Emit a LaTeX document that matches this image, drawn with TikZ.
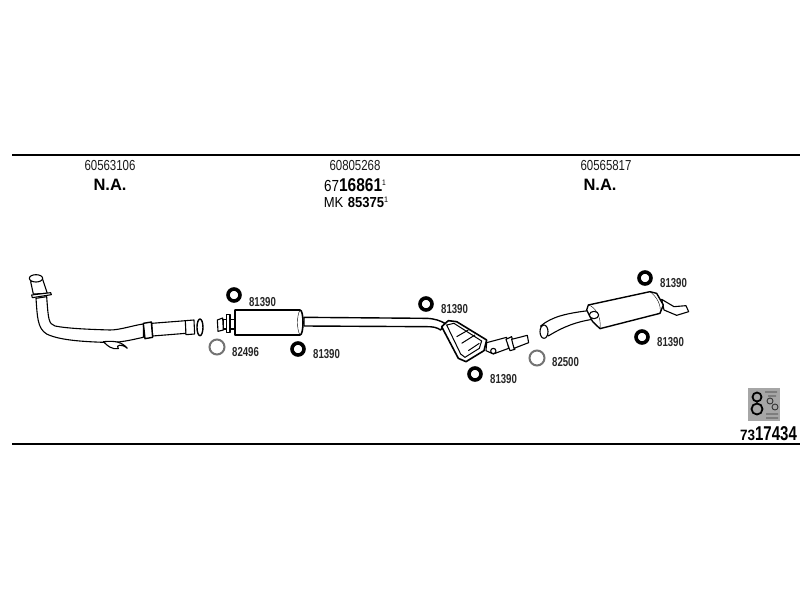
\documentclass[tikz,border=0pt]{standalone}
\usepackage{fontspec}
\setmainfont{Liberation Sans}
\tikzset{
	x=1pt, y=-1pt, % one unit is one pixel of the sheet
	ring/.style={circle, draw=black, line width=3.6pt, minimum size=12pt, inner sep=0pt}, % black rubber mounts
	gasket/.style={circle, draw=black!55, line width=2pt, minimum size=15pt, inner sep=0pt}, % grey sealing rings
	partno/.style={inner sep=0pt, xscale=.74, font=\fontsize{13}{14}\selectfont\bfseries, text=black!85}, % small numbers at the rings
	refno/.style={inner sep=0pt, xscale=.79, font=\fontsize{14.5}{15}\selectfont, text=black!90}, % numbers below the top rule
	na/.style={inner sep=0pt, font=\fontsize{16.5}{17}\selectfont\bfseries},
	rule/.style={line width=1.6pt},
	part/.style={draw=black, line width=1.1pt, fill=white, line join=round},
}
\begin{document}
\begin{tikzpicture}
	\useasboundingbox (0,0) rectangle (800,600);
	\coordinate (r1a) at (12,155);
	\coordinate (r1b) at (800,155);
	\coordinate (r2a) at (12,444);
	\coordinate (r2b) at (800,444);
	\draw[rule] (r1a) -- (r1b);
	\draw[rule] (r2a) -- (r2b);
	% headings
	\node[refno] (h1) at (110,166) {60563106};
	\node[na] (n1) at (110,185) {N.A.};
	\node[refno] (h2) at (355,166) {60805268};
	\node[inner sep=0pt, xscale=.84] (n2) at (355,185) {\fontsize{16}{17}\selectfont 67\fontsize{18.5}{19}\selectfont\bfseries 16861\raisebox{6pt}{\fontsize{8}{9}\selectfont\mdseries 1}};
	\node[inner sep=0pt, xscale=.9] (n3) at (356,202) {\fontsize{14.5}{15}\selectfont MK\hspace{5pt}\bfseries 85375\raisebox{5pt}{\fontsize{8}{9}\selectfont\mdseries 1}};
	\node[refno] (h3) at (606,166) {60565817};
	\node[na] (n4) at (600,185) {N.A.};
	% front pipe
	\begin{scope}[shift={(10,250)}, x=.3333pt, y=-.3333pt]
		\draw[part] (62,95) -- (70,132) -- (112,130) -- (97,85) -- cycle;
		\draw[part] (78,85) ellipse (20 and 11);
		\draw[part] (78,145) .. controls (82,200) and (82,235) .. (110,252)
			.. controls (150,272) and (230,275) .. (280,277) .. controls (330,280) and (370,268) .. (400,262)
			-- (400,222) .. controls (370,226) and (330,240) .. (300,240)
			.. controls (230,238) and (170,235) .. (135,228) .. controls (115,222) and (115,205) .. (110,140) -- cycle;
		\draw[part] (65,135) -- (122,128) -- (124,134) -- (67,143) -- cycle;
		\draw[part] (280,275) .. controls (295,290) and (305,298) .. (325,296) .. controls (315,285) and (335,280) .. (352,295) .. controls (335,275) and (315,272) .. (280,275) -- cycle;
		\draw[part] (425,220) -- (528,212) -- (528,250) -- (428,258) -- cycle;
		\draw[part, line width=1.4pt] (400,220) -- (424,216) -- (428,262) -- (405,266) -- cycle;
		\draw[part] (526,212) -- (552,210) -- (554,252) -- (528,254) -- cycle;
		\draw[part, line width=1.4pt] (570,232) ellipse (9 and 25);
	\end{scope}
	% first silencer and long pipe
	\begin{scope}[shift={(280,280)}, x=.3333pt, y=-.3333pt]
		\draw[part] (-170,118) -- (-135,118) -- (-135,147) -- (-170,147) -- cycle;
		\draw[part] (-160,104) -- (-150,104) -- (-150,158) -- (-160,158) -- cycle;
		\draw[part] (-188,120) -- (-172,114) -- (-170,150) -- (-186,154) -- cycle;
		\draw[part, line width=1.4pt] (72,112) -- (440,115) .. controls (465,116) and (480,122) .. (495,130) -- (482,150) .. controls (470,142) and (460,140) .. (440,140) -- (72,138) -- cycle;
		\draw[part, line width=1.6pt] (-135,90) -- (60,90) .. controls (72,90) and (72,165) .. (60,165) -- (-135,165) -- cycle;
		\draw (60,90) .. controls (50,105) and (50,150) .. (60,165);
		% centre silencer
		\draw[part, line width=1.6pt] (485,140) -- (505,122) -- (530,125) -- (620,180) -- (612,212) -- (558,245) -- (535,235) -- cycle;
		\draw[line width=1pt] (500,135) -- (522,130) -- (605,183) -- (598,205) -- (555,232) -- (542,222) -- cycle;
		\draw[line width=1pt] (530,170) -- (565,150) (545,190) -- (585,165) (565,212) -- (598,190);
		\draw[part] (620,188) -- (680,172) -- (686,205) -- (640,222) -- (618,212) -- cycle;
		\draw[part] (678,178) -- (695,170) -- (705,208) -- (690,212) -- cycle;
		\draw[part] (695,178) -- (742,166) -- (746,188) -- (702,205) -- cycle;
		\draw[part] (640,213) circle (8);
	\end{scope}
	% rear silencer
	\begin{scope}[shift={(520,260)}, x=.3333pt, y=-.3333pt]
		\draw[part] (62,198) .. controls (95,170) and (140,160) .. (205,152) -- (218,178) .. controls (170,185) and (130,200) .. (85,228) -- cycle;
		\draw[part] (72,215) ellipse (12 and 20);
		\draw[part] (425,118) -- (462,140) -- (498,137) -- (506,155) -- (470,166) -- (432,150) -- cycle;
		\draw[part, line width=1.4pt] (205,135) -- (390,95) -- (410,100) -- (430,135) -- (420,160) -- (240,206) -- (218,185) -- (200,150) -- cycle;
		\draw (205,135) .. controls (225,140) and (245,170) .. (240,206);
		\draw (390,95) .. controls (410,110) and (425,135) .. (420,160);
		\draw[part] (222,165) ellipse (14 and 11);
	\end{scope}
	% rings and their numbers
	\node[ring] (m1) at (234,295) {};
	\node[partno, anchor=west] (l1) at (249,302) {81390};
	\node[gasket] (g1) at (217,347) {};
	\node[partno, anchor=west] (l2) at (232,352) {82496};
	\node[ring] (m2) at (298,349) {};
	\node[partno, anchor=west] (l3) at (313,354) {81390};
	\node[ring] (m3) at (426,304) {};
	\node[partno, anchor=west] (l4) at (441,309) {81390};
	\node[ring] (m4) at (475,374) {};
	\node[partno, anchor=west] (l5) at (490,379) {81390};
	\node[gasket] (g2) at (537,358) {};
	\node[partno, anchor=west] (l6) at (552,362) {82500};
	\node[ring] (m5) at (645,278) {};
	\node[partno, anchor=west] (l7) at (660,283) {81390};
	\node[ring] (m6) at (642,337) {};
	\node[partno, anchor=west] (l8) at (657,342) {81390};
	% stamp
	\node[fill=black!35, minimum width=32pt, minimum height=33pt, inner sep=0pt] (s1) at (764,404) {};
	\draw[line width=1.8pt] (757,397) circle (4.5) (757,409) circle (5.5);
	\draw[line width=.9pt, black!80] (765,392) -- (777,392) (768,396) -- (776,396) (770,401) circle (3) (775,407) circle (3) (766,414) -- (778,414) (766,418) -- (778,418);
	\node[inner sep=0pt, xscale=.75, anchor=east] (n5) at (797,434) {\fontsize{15}{16}\selectfont\bfseries \scalebox{1.2}[1]{73}\fontsize{20}{21}\selectfont 17434};
\end{tikzpicture}
\end{document}
